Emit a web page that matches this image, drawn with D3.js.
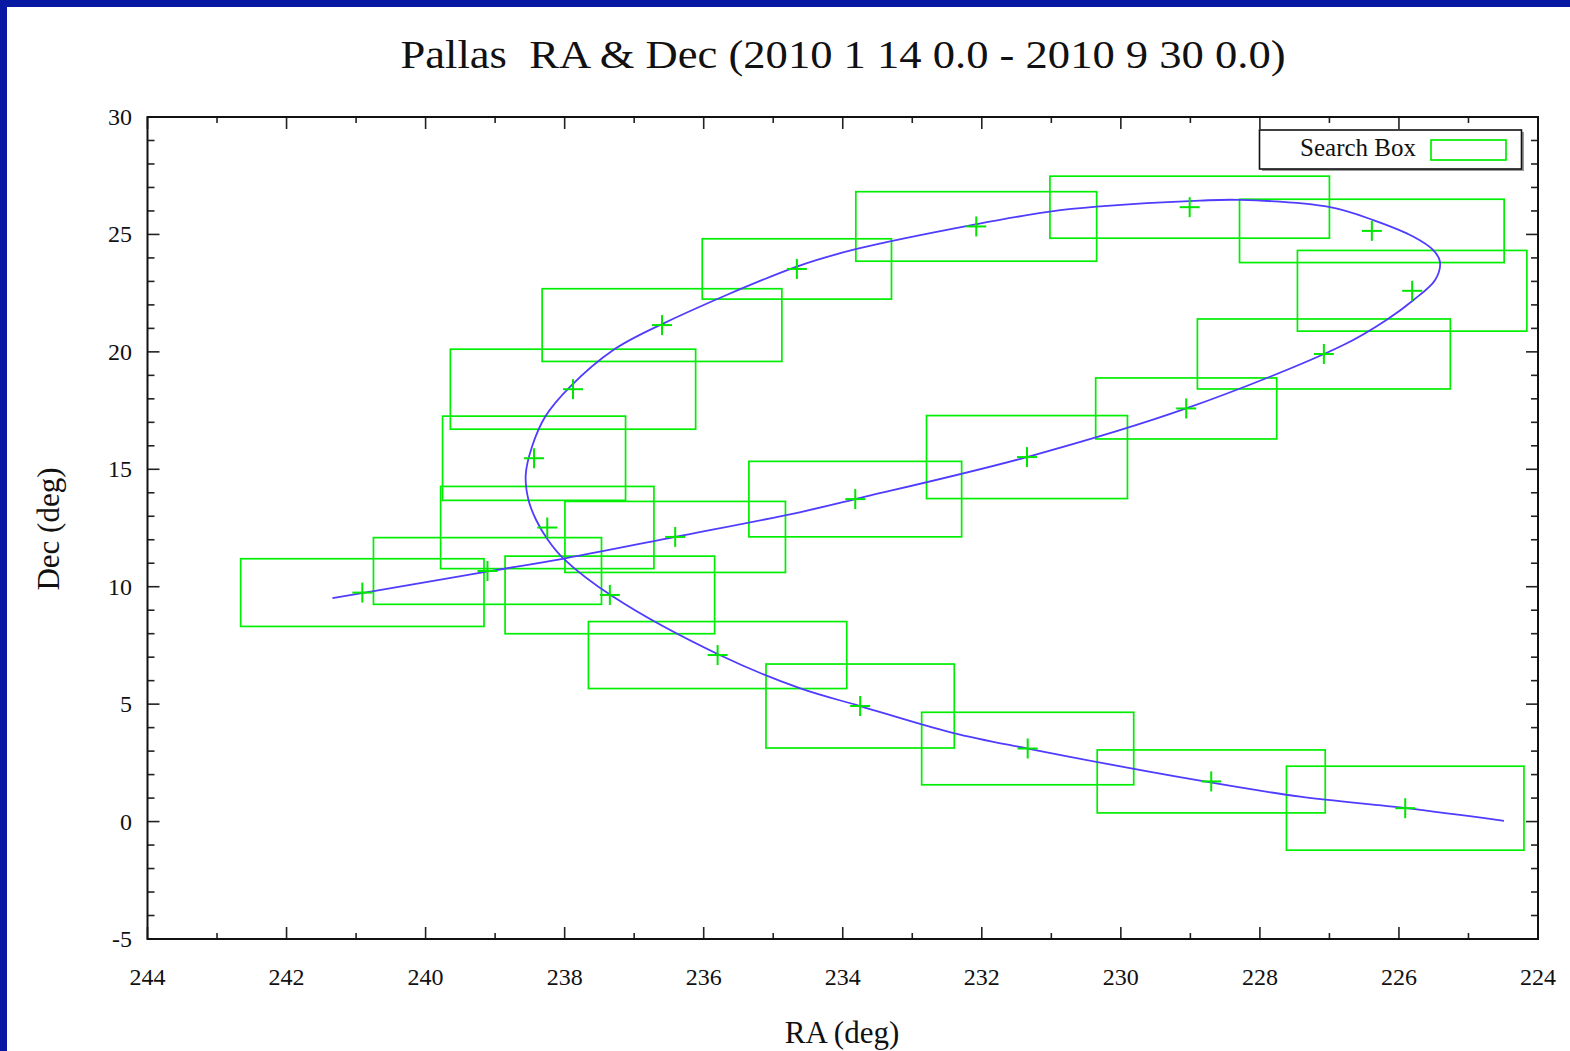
<html lang="en">
  <head>
    <meta charset="UTF-8" />
    <title>Pallas RA & Dec</title>
    <style>
      body { margin: 0; background: #0718a3; }
      text { font-family: "Liberation Serif", "DejaVu Serif", serif; fill: #111; }
    </style>
  </head>
  <body>
    <script src="https://cdn.jsdelivr.net/npm/d3@7"></script>
    <script>
      // sampled positions (+) in time order: RA, Dec (deg)
      const ra  = [225.91, 228.70, 231.34, 233.75, 235.80, 237.35, 238.25, 238.44, 237.88, 236.60, 234.66,
                   232.08, 229.01, 226.39, 225.81, 227.08, 229.06, 231.35, 233.82, 236.41, 239.11, 240.91];
      const dec = [0.57, 1.71, 3.11, 4.92, 7.09, 9.65, 12.52, 15.47, 18.41, 21.14, 23.53,
                   25.34, 26.16, 25.15, 22.60, 19.91, 17.59, 15.52, 13.73, 12.12, 10.67, 9.75];
      // search box half sizes (deg)
      const halfRA  = [1.708, 1.640, 1.525, 1.354, 1.858, 1.507, 1.534, 1.316, 1.764, 1.724, 1.361,
                       1.732, 2.010, 1.903, 1.650, 1.819, 1.302, 1.445, 1.530, 1.586, 1.640, 1.750];
      const halfDec = [1.788, 1.341, 1.543, 1.788, 1.426, 1.652, 1.750, 1.793, 1.703, 1.548, 1.284,
                       1.480, 1.320, 1.348, 1.718, 1.490, 1.299, 1.767, 1.607, 1.512, 1.420, 1.441];

      // orbit path
      const pathRA  = [224.49, 225.90, 227.42, 228.86, 231.34, 232.42, 233.75, 234.62, 235.77, 237.30,
                       238.02, 238.24, 238.41, 238.52, 238.56, 238.47, 238.28, 237.92, 237.30,
                       236.63, 234.66, 233.80, 232.07, 231.02, 230.35, 228.86, 228.29, 226.99, 226.37,
                       225.79, 225.51, 225.41, 225.48, 225.79, 226.18, 226.80, 229.06, 231.35, 233.82,
                       234.62, 236.41, 237.99, 239.12, 240.37, 241.34];
      const pathDec = [0.03, 0.57, 1.06, 1.74, 3.11, 3.78, 4.92, 5.68, 7.09, 9.57,
                       11.21, 11.99, 12.84, 13.69, 14.76, 15.96, 17.24, 18.52, 20.08,
                       21.14, 23.63, 24.38, 25.44, 25.97, 26.18, 26.44, 26.47, 26.16, 25.61,
                       24.90, 24.34, 23.84, 23.06, 22.21, 21.36, 20.29, 17.59, 15.52, 13.73,
                       13.17, 12.12, 11.21, 10.64, 10.00, 9.51];

      const xMajor = d3.range(224, 245, 2);
      const xMinor = d3.range(224, 245, 1);
      const yMajor = d3.range(-5, 31, 5);
      const yMinor = d3.range(-5, 31, 1);

      const W = 1570, H = 1051;
      const m = { left: 147.5, top: 117, right: 1538, bottom: 939 };

      const svg = d3.select("body").append("svg")
        .attr("width", W).attr("height", H)
        .style("display", "block");

      svg.append("rect").attr("x", 0).attr("y", 0).attr("width", W).attr("height", H).attr("fill", "#0718a3");
      svg.append("rect").attr("x", 7).attr("y", 7).attr("width", W - 7).attr("height", H - 7).attr("fill", "#fff");

      const x = d3.scaleLinear().domain([244, 224]).range([m.left, m.right]);
      const y = d3.scaleLinear().domain([-5, 30]).range([m.bottom, m.top]);

      // ticks, all four sides, pointing in
      const tk = svg.append("g").attr("stroke", "#222").attr("stroke-width", 1.6);
      xMinor.forEach(v => {
        const len = v % 2 === 0 ? 12 : 6;
        tk.append("line").attr("x1", x(v)).attr("x2", x(v)).attr("y1", m.bottom).attr("y2", m.bottom - len);
        tk.append("line").attr("x1", x(v)).attr("x2", x(v)).attr("y1", m.top).attr("y2", m.top + len);
      });
      yMinor.forEach(v => {
        const len = v % 5 === 0 ? 12 : 7;
        tk.append("line").attr("y1", y(v)).attr("y2", y(v)).attr("x1", m.left).attr("x2", m.left + len);
        tk.append("line").attr("y1", y(v)).attr("y2", y(v)).attr("x1", m.right).attr("x2", m.right - len);
      });

      svg.append("g").selectAll("text").data(xMajor).join("text")
        .attr("x", d => x(d)).attr("y", 985)
        .attr("text-anchor", "middle").attr("font-size", 24)
        .text(d => d);
      svg.append("g").selectAll("text").data(yMajor).join("text")
        .attr("x", 132).attr("y", d => y(d) + 8)
        .attr("text-anchor", "end").attr("font-size", 24)
        .text(d => d);

      // search boxes
      const idx = d3.range(ra.length);
      svg.append("g").selectAll("rect").data(idx).join("rect")
        .attr("x", i => x(ra[i] + halfRA[i]))
        .attr("y", i => y(dec[i] + halfDec[i]))
        .attr("width", i => x(ra[i] - halfRA[i]) - x(ra[i] + halfRA[i]))
        .attr("height", i => y(dec[i] - halfDec[i]) - y(dec[i] + halfDec[i]))
        .attr("fill", "none").attr("stroke", "#00ee00").attr("stroke-width", 1.7);

      // orbit
      const line = d3.line()
        .x(i => x(pathRA[i])).y(i => y(pathDec[i]))
        .curve(d3.curveCatmullRom.alpha(0.5));
      svg.append("path").attr("d", line(d3.range(pathRA.length)))
        .attr("fill", "none").attr("stroke", "#4f3cff").attr("stroke-width", 1.8);

      // + markers
      const mk = svg.append("g").attr("stroke", "#00e600").attr("stroke-width", 2);
      idx.forEach(i => {
        mk.append("line").attr("x1", x(ra[i]) - 10).attr("x2", x(ra[i]) + 10).attr("y1", y(dec[i])).attr("y2", y(dec[i]));
        mk.append("line").attr("x1", x(ra[i])).attr("x2", x(ra[i])).attr("y1", y(dec[i]) - 10).attr("y2", y(dec[i]) + 10);
      });

      // frame
      svg.append("rect").attr("x", m.left).attr("y", m.top)
        .attr("width", m.right - m.left).attr("height", m.bottom - m.top)
        .attr("fill", "none").attr("stroke", "#111").attr("stroke-width", 2);

      // legend
      const lg = svg.append("g");
      lg.append("rect").attr("x", 1262).attr("y", 132).attr("width", 262).attr("height", 39).attr("fill", "#999");
      lg.append("rect").attr("x", 1259.5).attr("y", 130).attr("width", 262).attr("height", 39)
        .attr("fill", "#fff").attr("stroke", "#111").attr("stroke-width", 1.6);
      lg.append("text").attr("x", 1416).attr("y", 156).attr("text-anchor", "end").attr("font-size", 25).text("Search Box");
      lg.append("rect").attr("x", 1431).attr("y", 140).attr("width", 75).attr("height", 20)
        .attr("fill", "none").attr("stroke", "#00ee00").attr("stroke-width", 1.7);

      // titles
      svg.append("text").attr("x", 843).attr("y", 68).attr("text-anchor", "middle")
        .style("white-space", "pre")
        .attr("font-size", 41).attr("textLength", 885).attr("lengthAdjust", "spacingAndGlyphs")
        .text("Pallas  RA & Dec (2010 1 14 0.0 - 2010 9 30 0.0)");
      svg.append("text").attr("x", 842).attr("y", 1043).attr("text-anchor", "middle")
        .attr("font-size", 31).text("RA (deg)");
      svg.append("text").attr("transform", "translate(59,529) rotate(-90)").attr("text-anchor", "middle")
        .attr("font-size", 31).text("Dec (deg)");
    </script>
  </body>
</html>
